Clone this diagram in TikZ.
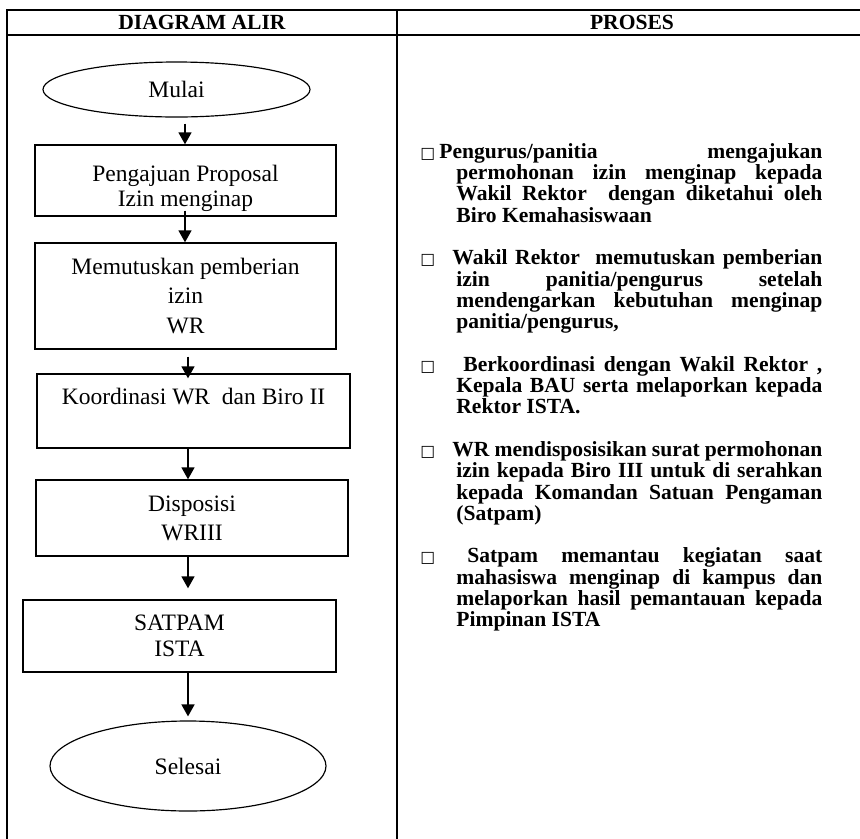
\documentclass[tikz,border=0pt]{standalone}
\usepackage{fontspec}
\setmainfont{Liberation Serif}
\newfontfamily\simbol{DejaVu Sans}
\usepackage{tikz}
\usetikzlibrary{arrows.meta,shapes.geometric,positioning}
\newdimen\pxu
\pxu=0.51pt
\newcommand{\kotakkecil}{{\simbol\fontsize{8pt}{8pt}\selectfont\char"25A1}}
\newcommand{\butir}[2]{\hangindent=18.36pt\hangafter=1\noindent\makebox[#1\pxu][l]{\kotakkecil}#2\par}

\begin{document}
\begin{tikzpicture}[x=0.51pt,y=-0.51pt,
  garis/.style={line width=1pt},
  judul/.style={inner sep=0pt,font=\fontsize{11pt}{13pt}\selectfont\bfseries},
  kotak/.style={draw,rectangle,line width=0.7pt,inner sep=0pt,align=center,font=\fontsize{12pt}{#1}\selectfont},
  elips/.style={draw,ellipse,line width=0.6pt,inner sep=0pt,font=\fontsize{12pt}{14pt}\selectfont},
  panah/.style={line width=0.85pt,-{Triangle[length=6.1pt,width=6.6pt]}},
  proses/.style={inner sep=0pt,text width=205pt,align=justify,font=\fontsize{11pt}{10.86pt}\selectfont\bfseries}]
\useasboundingbox (0,0) rectangle (860,839);

\draw[garis] (7,839) -- (7,10) -- (860,10);
\draw[garis] (7,35) -- (860,35);
\draw[garis] (397,10) -- (397,839);
\node[judul] (hkiri) at (202,22) {DIAGRAM ALIR};
\node[judul] (hkanan) at (632,22) {PROSES};

\node[elips,minimum width=267\pxu,minimum height=55\pxu] (mulai) at (176.5,89.5) {Mulai};
\node[kotak=12.75pt,minimum width=301\pxu,minimum height=71\pxu] (prop) at (185.5,180.5) {\rule{0pt}{16.4pt}Pengajuan Proposal\\Izin menginap};
\node[kotak=15pt,minimum width=301\pxu,minimum height=106\pxu] (putus) at (185.5,296) {Memutuskan pemberian\\izin\\WR};
\node[kotak=14.8pt,minimum width=313\pxu,minimum height=74\pxu] (koord) at (193.5,411) {Koordinasi WR\ \ dan Biro II\\\mbox{}};
\node[kotak=14.8pt,minimum width=312\pxu,minimum height=76\pxu] (dispo) at (192,518) {Disposisi\\WRIII};
\node[kotak=13.3pt,minimum width=313\pxu,minimum height=72\pxu] (satpam) at (179.5,636) {SATPAM\\ISTA};
\node[elips,minimum width=276\pxu,minimum height=90\pxu] (selesai) at (188,766) {Selesai};

\coordinate (ka) at (185,0);
\coordinate (kb) at (188,0);
\draw[panah,shorten <=6\pxu] (mulai.south -| ka) -- (prop.north -| ka);
\draw[panah,shorten <=-6\pxu] (prop.south -| ka) -- (putus.north -| ka);
\draw[panah,shorten <=7\pxu,shorten >=-5\pxu] (putus.south -| kb) -- (koord.north -| kb);
\draw[panah] (koord.south -| kb) -- (dispo.north -| kb);
\draw[panah,shorten >=11\pxu] (dispo.south -| kb) -- (satpam.north -| kb);
\draw[panah,shorten >=4\pxu] (satpam.south -| kb) -- (selesai.north -| kb);

\node[proses,anchor=north west] (teks) at (420,143) {\hyphenpenalty=10000\exhyphenpenalty=10000\parskip=10.86pt
\butir{19}{Pengurus/panitia mengajukan\linebreak permohonan izin menginap kepada\linebreak Wakil Rektor\ \ dengan diketahui oleh\linebreak Biro Kemahasiswaan}
\butir{32}{Wakil Rektor\ \ memutuskan pemberian\linebreak izin panitia/pengurus setelah\linebreak mendengarkan kebutuhan menginap\linebreak panitia/pengurus,}
\butir{43}{Berkoordinasi dengan Wakil Rektor ,\linebreak Kepala BAU serta melaporkan kepada\linebreak Rektor ISTA.}
\butir{32}{WR mendisposisikan surat permohonan\linebreak izin kepada Biro III untuk di serahkan\linebreak kepada Komandan Satuan Pengaman\linebreak (Satpam)}
\butir{47}{Satpam memantau kegiatan saat\linebreak mahasiswa menginap di kampus dan\linebreak melaporkan hasil pemantauan kepada\linebreak Pimpinan ISTA}};
\end{tikzpicture}
\end{document}
